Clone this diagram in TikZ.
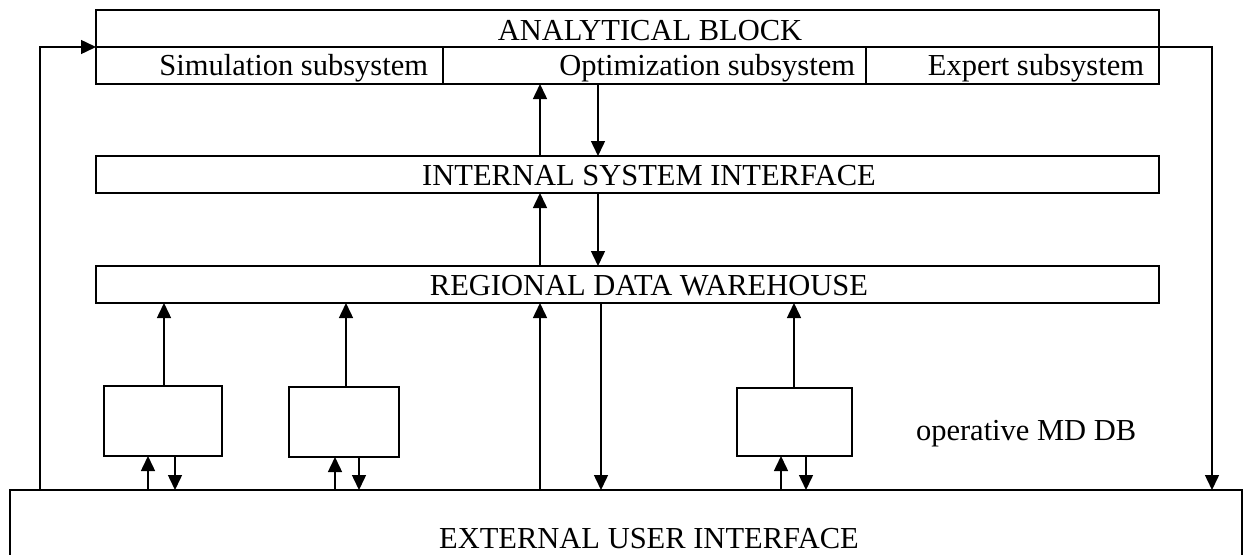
\documentclass[tikz,border=0pt]{standalone}
\usepackage{fontspec}
\setmainfont{Liberation Serif}
\usetikzlibrary{arrows.meta}
\begin{document}
\begin{tikzpicture}[x=1pt,y=-1pt,
  box/.style={draw, line width=1.5pt, rectangle, inner sep=0pt, outer sep=0pt, anchor=north west},
  lbl/.style={font=\fontsize{30.5}{36}\selectfont, inner sep=0pt, outer sep=0pt},
  ln/.style={line width=1.5pt},
  arr/.style={line width=1.5pt, -{Triangle[length=15pt,width=14pt]}}]
\useasboundingbox (0,0) rectangle (1247,554);
% analytical block
\node[box, minimum width=1063pt, minimum height=37pt] (ab) at (96,10) {};
\node[box, minimum width=347pt, minimum height=37pt] (sim) at (96,47) {};
\node[box, minimum width=423pt, minimum height=37pt] (opt) at (443,47) {};
\node[box, minimum width=293pt, minimum height=37pt] (exp) at (866,47) {};
\node[lbl, anchor=base] (abt) at (650,40) {ANALYTICAL BLOCK};
\node[lbl, anchor=base east] (simt) at (428,75) {Simulation subsystem};
\node[lbl, anchor=base east] (optt) at (855,75) {Optimization subsystem};
\node[lbl, anchor=base east] (expt) at (1144,75) {Expert subsystem};
% internal interface
\node[box, minimum width=1063pt, minimum height=37pt] (ist) at (96,156) {};
\node[lbl, anchor=base] (istt) at (649,185) {INTERNAL SYSTEM INTERFACE};
% regional warehouse
\node[box, minimum width=1063pt, minimum height=37pt] (rdw) at (96,266) {};
\node[lbl, anchor=base] (rdwt) at (649,295) {REGIONAL DATA WAREHOUSE};
% external interface
\node[box, minimum width=1232pt, minimum height=90pt] (eui) at (10,490) {};
\node[lbl, anchor=base] (euit) at (649,548) {EXTERNAL USER INTERFACE};
% small boxes
\node[box, minimum width=118pt, minimum height=70pt] (b1) at (104,386) {};
\node[box, minimum width=110pt, minimum height=70pt] (b2) at (289,387) {};
\node[box, minimum width=115pt, minimum height=68pt] (b3) at (737,388) {};
\node[lbl, anchor=base west] (mdt) at (916,440) {operative MD DB};
% arrows between main blocks
\draw[arr] (540,0 |- ist.north) -- (540,0 |- opt.south);
\draw[arr] (598,0 |- opt.south) -- (598,0 |- ist.north);
\draw[arr] (540,0 |- rdw.north) -- (540,0 |- ist.south);
\draw[arr] (598,0 |- ist.south) -- (598,0 |- rdw.north);
\draw[arr] (540,0 |- eui.north) -- (540,0 |- rdw.south);
\draw[arr] (601,0 |- rdw.south) -- (601,0 |- eui.north);
% small boxes to warehouse
\draw[arr] (164,0 |- b1.north) -- (164,0 |- rdw.south);
\draw[arr] (346,0 |- b2.north) -- (346,0 |- rdw.south);
\draw[arr] (794,0 |- b3.north) -- (794,0 |- rdw.south);
% external interface to small boxes
\draw[arr] (148,0 |- eui.north) -- (148,0 |- b1.south);
\draw[arr] (175,0 |- b1.south) -- (175,0 |- eui.north);
\draw[arr] (335,0 |- eui.north) -- (335,0 |- b2.south);
\draw[arr] (359,0 |- b2.south) -- (359,0 |- eui.north);
\draw[arr] (781,0 |- eui.north) -- (781,0 |- b3.south);
\draw[arr] (806,0 |- b3.south) -- (806,0 |- eui.north);
% feedback loops
\draw[arr] (40,0 |- eui.north) |- (sim.north west);
\draw[arr] (exp.north east) -| (1212,0 |- eui.north);
\end{tikzpicture}
\end{document}
